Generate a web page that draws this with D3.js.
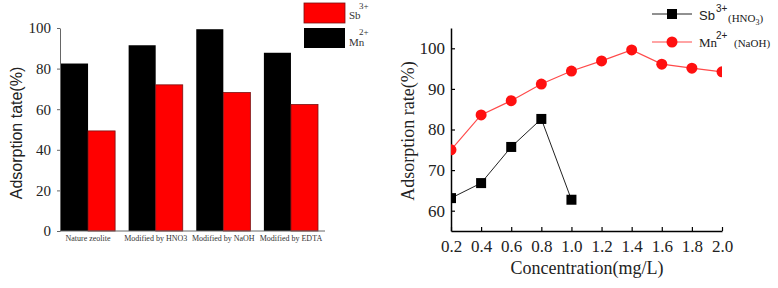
<!DOCTYPE html>
<html><head><meta charset="utf-8">
<script src="https://cdn.jsdelivr.net/npm/d3@7"></script>
<style>body{margin:0;background:#fff}svg{display:block}</style>
</head><body>
<svg id="c" width="778" height="288"></svg>
<script>
// ---- data: left bar chart ----
const categories = ["Nature zeolite", "Modified by HNO3", "Modified by NaOH", "Modified by EDTA"];
const mnValues = [82.5, 91.5, 99.4, 87.8];
const sbValues = [49.3, 72.0, 68.2, 62.3];
const barTicks = [0, 20, 40, 60, 80, 100];

// ---- data: right line chart ----
const concSb = [0.2, 0.4, 0.6, 0.8, 1.0];
const sbRate = [63.1, 66.8, 75.7, 82.6, 62.7];
const concMn = [0.2, 0.4, 0.6, 0.8, 1.0, 1.2, 1.4, 1.6, 1.8, 2.0];
const mnRate = [75.0, 83.6, 87.1, 91.2, 94.4, 96.9, 99.6, 96.1, 95.1, 94.2];
const xTicks = [0.2, 0.4, 0.6, 0.8, 1.0, 1.2, 1.4, 1.6, 1.8, 2.0];
const yTicks = [60, 70, 80, 90, 100];

const svg = d3.select("#c");
const serif = "Liberation Serif, Times New Roman, serif";
const sans = "Liberation Sans, Arial, sans-serif";

// ================= LEFT CHART =================
const L = svg.append("g");
const x0 = d3.scaleBand().domain(categories).range([61, 318]).paddingInner(0.2).paddingOuter(0);
const x1 = d3.scaleBand().domain(["mn", "sb"]).range([0, x0.bandwidth()]);
const yL = d3.scaleLinear().domain([0, 100]).range([231, 28]);

const groups = L.selectAll("g.grp").data(categories).join("g")
  .attr("transform", d => `translate(${x0(d)},0)`);
groups.append("rect")
  .attr("x", x1("mn")).attr("width", x1.bandwidth())
  .attr("y", (d, i) => yL(mnValues[i])).attr("height", (d, i) => yL(0) - yL(mnValues[i]))
  .attr("fill", "#000");
groups.append("rect")
  .attr("x", x1("sb")).attr("width", x1.bandwidth())
  .attr("y", (d, i) => yL(sbValues[i])).attr("height", (d, i) => yL(0) - yL(sbValues[i]))
  .attr("fill", "#ff0000").attr("stroke", "#7a1010").attr("stroke-width", 0.8);

const yAxisL = L.append("g").attr("transform", "translate(60,0)")
  .call(d3.axisLeft(yL).tickValues(barTicks).tickSize(3).tickPadding(6).tickSizeOuter(0))
  .attr("font-family", serif).attr("font-size", 15);
yAxisL.select(".domain").attr("stroke", "#666");
yAxisL.selectAll(".tick line").attr("stroke", "#666");
yAxisL.selectAll(".tick text").style("font-family", serif).style("font-size", "15px").attr("fill", "#222");

const xAxisL = L.append("g").attr("transform", "translate(0,231)");
xAxisL.append("line").attr("x1", 60).attr("x2", 325).attr("stroke", "#666");
xAxisL.selectAll("text").data(categories).join("text")
  .attr("x", d => x0(d) + x0.bandwidth() / 2).attr("y", 10)
  .attr("text-anchor", "middle").style("font-family", serif).style("font-size", "8px").attr("fill", "#333")
  .text(d => d);

L.append("text").attr("transform", "translate(22,133) rotate(-90)")
  .attr("text-anchor", "middle").style("font-family", sans).style("font-size", "16px").attr("fill", "#222")
  .text("Adsorption tate(%)");

// legend left
const legL = L.append("g");
legL.append("rect").attr("x", 304).attr("y", 3).attr("width", 41).attr("height", 20)
  .attr("fill", "#ff0000").attr("stroke", "#7a1010").attr("stroke-width", 0.8);
legL.append("rect").attr("x", 304).attr("y", 28).attr("width", 41).attr("height", 20).attr("fill", "#000");
const t1 = legL.append("text").style("font-family", serif).attr("fill", "#333");
t1.append("tspan").attr("x", 349).attr("y", 19).style("font-size", "11px").text("Sb");
t1.append("tspan").attr("x", 359).attr("y", 9).style("font-size", "9px").text("3+");
const t2 = legL.append("text").style("font-family", serif).attr("fill", "#333");
t2.append("tspan").attr("x", 349).attr("y", 46).style("font-size", "11px").text("Mn");
t2.append("tspan").attr("x", 359).attr("y", 35).style("font-size", "9px").text("2+");

// ================= RIGHT CHART =================
const R = svg.append("g");
const xR = d3.scaleLinear().domain([0.2, 2.0]).range([451, 722]);
const yR = d3.scaleLinear().domain([55, 105]).range([231, 28]);

const defs = svg.append("defs");
defs.append("clipPath").attr("id", "clipR").append("rect")
  .attr("x", 451).attr("y", 28).attr("width", 271).attr("height", 203);

const xAxisR = R.append("g").attr("transform", "translate(0,231)")
  .call(d3.axisTop(xR).tickValues(xTicks).tickSize(4).tickSizeOuter(0).tickFormat(d3.format(".1f")));
xAxisR.select(".domain").attr("stroke", "#000").attr("stroke-width", 1.5);
xAxisR.selectAll(".tick line").attr("stroke-width", 1.2);
xAxisR.selectAll(".tick text").attr("y", 21).attr("dy", null)
  .style("font-family", serif).style("font-size", "17px").attr("fill", "#222");

const yAxisR = R.append("g").attr("transform", "translate(451,0)")
  .call(d3.axisRight(yR).tickValues(yTicks).tickSize(4).tickSizeOuter(0));
yAxisR.select(".domain").attr("stroke", "#000").attr("stroke-width", 1.5);
yAxisR.selectAll(".tick line").attr("stroke-width", 1.2);
yAxisR.selectAll(".tick text").attr("x", -6).attr("text-anchor", "end")
  .style("font-family", serif).style("font-size", "17px").attr("fill", "#222");

R.append("text").attr("x", 587).attr("y", 274).attr("text-anchor", "middle")
  .style("font-family", serif).style("font-size", "18px").attr("fill", "#222").text("Concentration(mg/L)");
R.append("text").attr("transform", "translate(414,131) rotate(-90)").attr("text-anchor", "middle")
  .style("font-family", serif).style("font-size", "18px").attr("fill", "#222").text("Adsorption rate(%)");

const plot = R.append("g").attr("clip-path", "url(#clipR)");
const lineSb = d3.line().x((d, i) => xR(concSb[i])).y(d => yR(d));
const lineMn = d3.line().x((d, i) => xR(concMn[i])).y(d => yR(d));
plot.append("path").attr("d", lineMn(mnRate)).attr("fill", "none").attr("stroke", "#ff4a4a").attr("stroke-width", 1.2);
plot.append("path").attr("d", lineSb(sbRate)).attr("fill", "none").attr("stroke", "#222").attr("stroke-width", 1);
plot.selectAll("circle.mn").data(mnRate).join("circle")
  .attr("cx", (d, i) => xR(concMn[i])).attr("cy", d => yR(d)).attr("r", 5.5).attr("fill", "#ff1010");
plot.selectAll("rect.sb").data(sbRate).join("rect")
  .attr("x", (d, i) => xR(concSb[i]) - 5).attr("y", d => yR(d) - 5)
  .attr("width", 10).attr("height", 10).attr("fill", "#000");

// legend right
const legR = R.append("g");
legR.append("line").attr("x1", 652).attr("x2", 692).attr("y1", 14).attr("y2", 14).attr("stroke", "#222");
legR.append("rect").attr("x", 667).attr("y", 9).attr("width", 10).attr("height", 10).attr("fill", "#000");
legR.append("line").attr("x1", 652).attr("x2", 692).attr("y1", 42).attr("y2", 42).attr("stroke", "#ff4a4a").attr("stroke-width", 1.2);
legR.append("circle").attr("cx", 672).attr("cy", 42).attr("r", 5.5).attr("fill", "#ff1010");

const s1 = legR.append("text").attr("fill", "#222");
s1.append("tspan").attr("x", 699).attr("y", 20).style("font-family", sans).style("font-size", "13px").text("Sb");
s1.append("tspan").attr("x", 716).attr("y", 12).style("font-family", sans).style("font-size", "10px").text("3+");
s1.append("tspan").attr("x", 728).attr("y", 22).style("font-family", serif).style("font-size", "11px").text("(HNO");
s1.append("tspan").attr("y", 25).style("font-family", serif).style("font-size", "8px").text("3");
s1.append("tspan").attr("y", 22).style("font-family", serif).style("font-size", "11px").text(")");

const s2 = legR.append("text").attr("fill", "#222");
s2.append("tspan").attr("x", 699).attr("y", 47).style("font-family", serif).style("font-size", "13px").text("Mn");
s2.append("tspan").attr("x", 716).attr("y", 39).style("font-family", sans).style("font-size", "10px").text("2+");
s2.append("tspan").attr("x", 734).attr("y", 47).style("font-family", serif).style("font-size", "11px").text("(NaOH)");
</script>
</body></html>
